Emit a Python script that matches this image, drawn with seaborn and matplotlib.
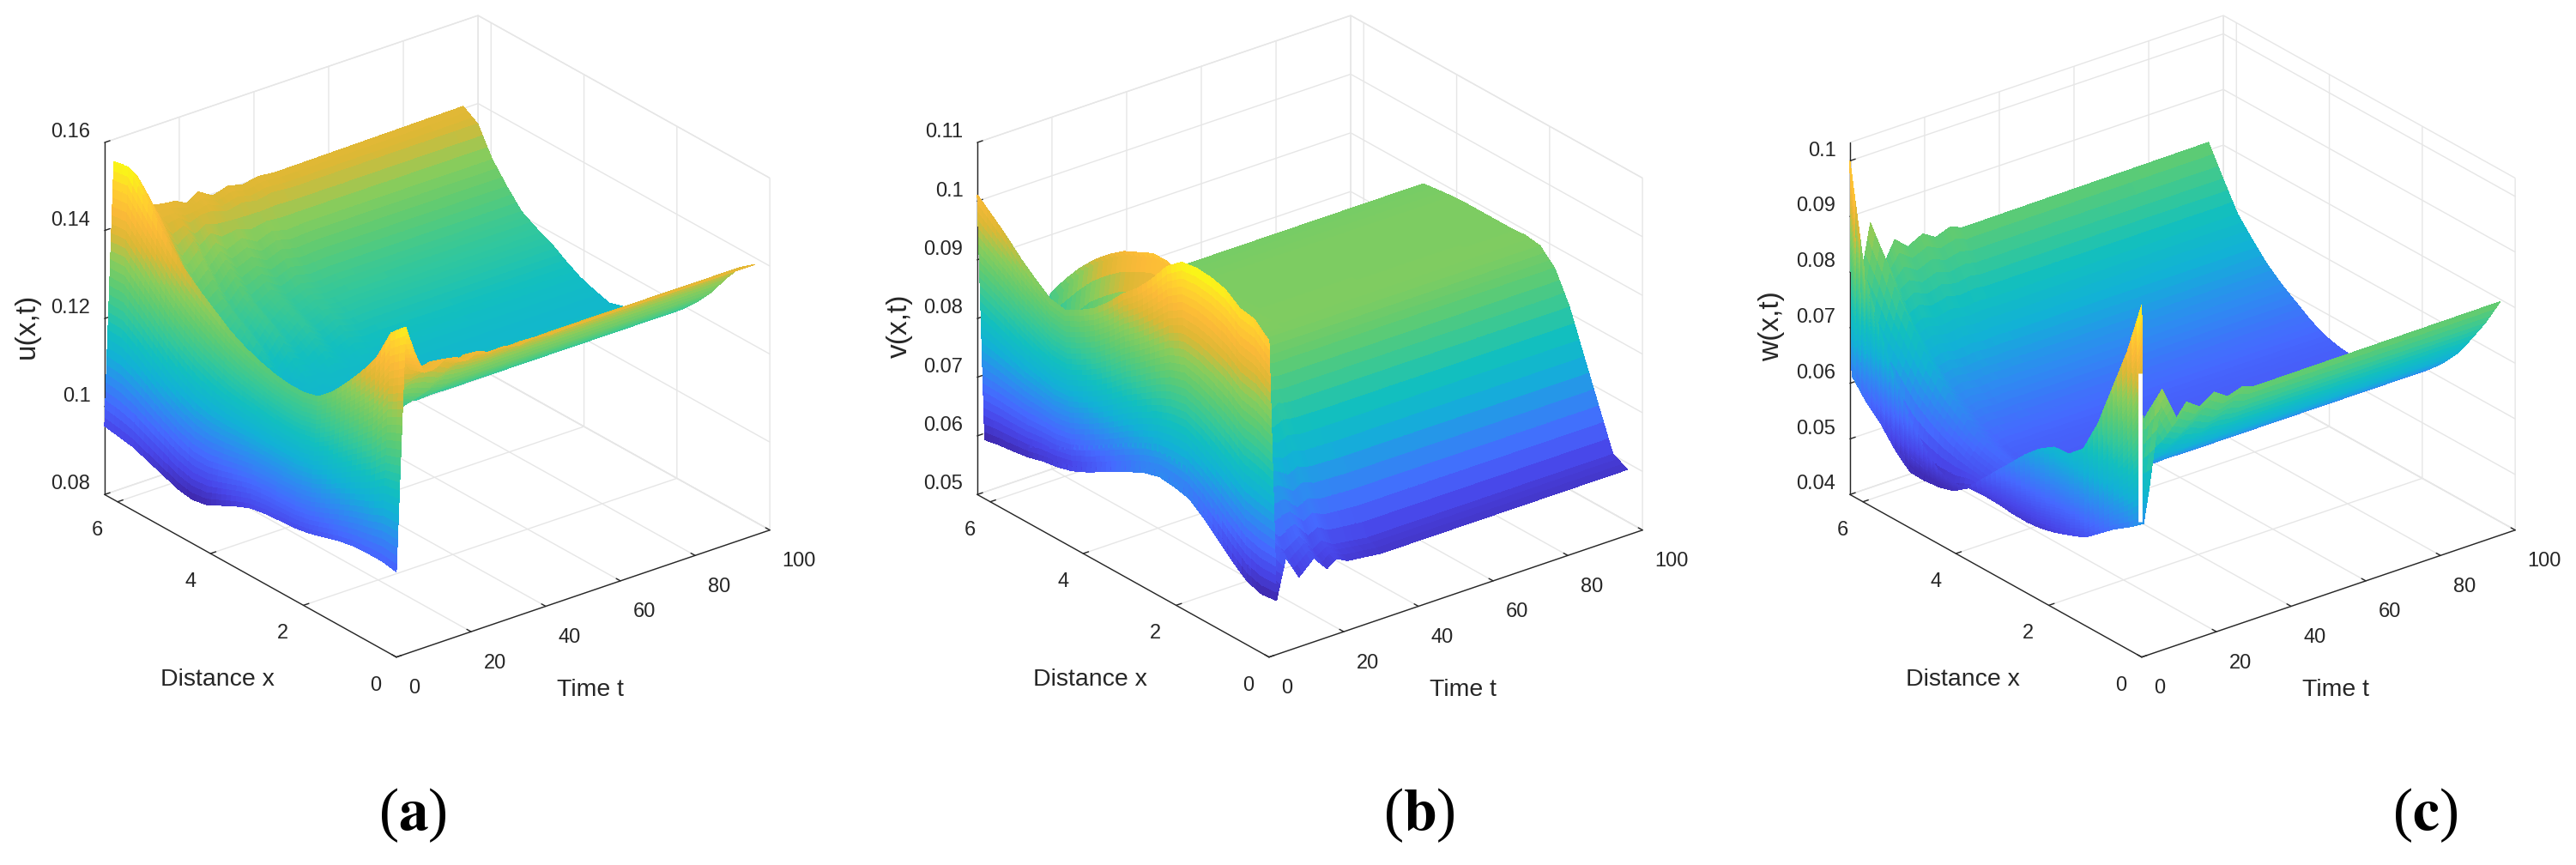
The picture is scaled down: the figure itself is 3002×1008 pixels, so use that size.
import numpy as np
import matplotlib
matplotlib.use("Agg")
import matplotlib.pyplot as plt
from mpl_toolkits.mplot3d import proj3d
import seaborn as sns

# ---------- values ----------
x_grid = [0.000, 0.314, 0.628, 0.942, 1.256, 1.570, 1.884, 2.198, 2.512, 2.826, 3.140,
          3.454, 3.768, 4.082, 4.396, 4.710, 5.024, 5.338, 5.652, 5.966, 6.280]
x_max = 6.28
t_max = 100

u_times = [0, 2.5, 5, 7.5, 10, 13, 16, 19, 22, 25, 29, 33, 37, 41, 46, 96]
u_values = [
 [.0994,.1,.1,.0998,.0991,.0981,.0971,.0965,.0963,.096,.0954,.094,.0923,.0906,.09,.0906,.0919,.0931,.0944,.095,.0956],
 [.1543,.1511,.1436,.1386,.1343,.1303,.1274,.1265,.1265,.127,.128,.1293,.1311,.1336,.1361,.139,.1424,.1468,.1511,.1555,.1549],
 [.1475,.1455,.139,.134,.1295,.126,.1235,.1225,.122,.1222,.1225,.123,.1245,.1265,.1295,.133,.137,.142,.147,.1525,.1535],
 [.1425,.1415,.136,.130,.1255,.122,.119,.117,.116,.1155,.1155,.1165,.1185,.1215,.125,.129,.1335,.1385,.1435,.148,.1495],
 [.1425,.141,.1355,.1295,.125,.1205,.1185,.1165,.115,.1145,.114,.1145,.116,.118,.121,.1245,.1285,.133,.138,.143,.1455],
 [.144,.1415,.136,.1305,.1265,.122,.1195,.1175,.1155,.1145,.113,.1135,.1145,.116,.118,.122,.1255,.1295,.134,.1395,.142],
 [.1435,.141,.1355,.130,.126,.1225,.1215,.119,.117,.1155,.1135,.1138,.1155,.119,.1225,.1245,.127,.132,.1365,.14,.1415],
 [.142,.1395,.1345,.129,.125,.121,.12,.118,.1165,.1155,.1145,.115,.114,.116,.119,.1215,.1235,.1275,.132,.138,.1412],
 [.1432,.1405,.1352,.13,.126,.1225,.1212,.119,.1168,.1152,.114,.1146,.1165,.119,.1225,.1245,.1265,.1305,.1345,.139,.1398],
 [.142,.1395,.1348,.1295,.1255,.122,.1205,.1183,.1164,.1153,.1145,.1155,.1155,.1175,.1195,.1215,.1235,.1275,.132,.139,.1416],
 [.1423,.1392,.1346,.1297,.1258,.1222,.1208,.1186,.1167,.1154,.1143,.1152,.1175,.12,.1225,.124,.1255,.129,.1335,.1378,.1395],
 [.1414,.139,.1346,.1296,.1256,.1221,.1206,.1184,.1165,.1153,.1144,.1153,.1158,.1175,.1198,.1214,.1232,.127,.1315,.1386,.1406],
 [.142,.1392,.1347,.1296,.1256,.1221,.1206,.1184,.1165,.1153,.1143,.1153,.1172,.1192,.1215,.1228,.1246,.1284,.1328,.1379,.1397],
 [.1414,.139,.1346,.1296,.1256,.1221,.1206,.1184,.1165,.1153,.1143,.1153,.1163,.1183,.1204,.1219,.1238,.1276,.1319,.1386,.1404],
 [.1416,.1391,.1346,.1296,.1256,.1221,.1206,.1184,.1165,.1153,.1143,.1153,.1166,.1185,.1207,.1222,.1241,.1279,.1322,.1382,.14],
 [.1415,.139,.1346,.1296,.1256,.1221,.1206,.1184,.1165,.1153,.1143,.1153,.1165,.1184,.1206,.1221,.124,.1278,.1321,.1384,.1405],
]

v_times = [0, 2, 4.5, 8, 12, 15.5, 18, 21, 30, 96]
v_values = [
 [.1039,.1062,.1067,.1085,.1092,.1094,.1090,.1069,.1034,.1004,.0981,.0952,.0928,.0911,.0898,.0903,.0922,.0943,.0968,.099,.1011],
 [.0592,.0589,.0597,.0617,.0641,.0664,.0683,.0689,.0692,.0685,.0673,.0659,.0645,.0631,.0619,.0612,.0608,.0601,.0597,.0594,.0589],
 [.066,.0675,.071,.0755,.08,.084,.0875,.089,.0895,.089,.088,.0865,.0845,.082,.0795,.0755,.0715,.068,.0655,.063,.062],
 [.0619,.0648,.0715,.0785,.0855,.091,.096,.0995,.102,.1032,.1032,.102,.1008,.0989,.0966,.0938,.0905,.0867,.08,.07,.0625],
 [.0643,.0665,.0715,.0775,.084,.0895,.0935,.097,.0985,.099,.0985,.098,.097,.0955,.094,.091,.0865,.08,.0725,.065,.061],
 [.0617,.0635,.0695,.0765,.083,.0885,.0915,.0935,.0945,.0945,.0945,.094,.0935,.0925,.0915,.089,.085,.079,.0725,.0655,.0615],
 [.0629,.0645,.0705,.0772,.0838,.089,.0918,.0928,.0932,.0932,.0932,.093,.0925,.0918,.091,.0885,.0845,.0785,.0722,.0652,.0615],
 [.0619,.0632,.0697,.0766,.0835,.0886,.0911,.0918,.0918,.0918,.0918,.0918,.0915,.0912,.0907,.0882,.0842,.0782,.072,.0651,.0615],
 [.0612,.0624,.0694,.0764,.0835,.0886,.091,.0914,.0913,.0912,.0912,.0912,.0911,.0908,.0905,.088,.084,.078,.072,.065,.0615],
 [.0612,.0624,.0694,.0764,.0835,.0886,.091,.0914,.0912,.0912,.0912,.0912,.0911,.0908,.0905,.088,.084,.078,.072,.065,.0615],
]

w_times = [0, 0.5, 2, 5.5, 9.5, 12, 15.5, 19.5, 23, 27, 30, 96]
w_values = [
 [.1033,.0934,.0855,.0776,.0716,.0692,.069,.0672,.0647,.0617,.0588,.0558,.0528,.0524,.0533,.0563,.0603,.0657,.0731,.0815,.1],
 [.0639,.0618,.06,.0578,.0556,.0545,.0535,.0528,.0525,.0526,.0529,.053,.0528,.0508,.05,.0497,.0498,.0522,.0555,.058,.0613],
 [.07,.0675,.065,.0625,.0605,.059,.0575,.0565,.056,.056,.056,.056,.0565,.0575,.0585,.06,.062,.065,.068,.0715,.075],
 [.0869,.0812,.0755,.071,.0675,.0645,.062,.0605,.0595,.059,.0585,.059,.0597,.0612,.0633,.0655,.0685,.0725,.0765,.0825,.0876],
 [.0805,.0755,.0715,.0677,.0648,.0622,.0602,.0588,.0578,.0573,.0571,.0574,.0581,.0595,.0612,.063,.0652,.068,.071,.076,.0798],
 [.0831,.0775,.073,.0688,.0655,.0628,.0607,.0592,.0582,.0576,.0574,.0577,.0584,.0598,.0616,.0635,.0657,.0687,.072,.0772,.0831],
 [.0815,.0763,.0719,.068,.0649,.0623,.0603,.0589,.058,.0575,.0573,.0576,.0583,.0596,.0613,.0631,.0653,.0681,.0712,.076,.081],
 [.0832,.0778,.0728,.0685,.0652,.0626,.0606,.0591,.0581,.0576,.0574,.0577,.0584,.0597,.0615,.0634,.0656,.0685,.0718,.077,.0824],
 [.0816,.0765,.0721,.0681,.065,.0624,.0604,.059,.058,.0575,.0573,.0576,.0583,.0596,.0614,.0632,.0654,.0682,.0713,.0762,.081],
 [.0825,.0772,.0725,.0683,.0651,.0625,.0605,.059,.058,.0575,.0573,.0576,.0583,.0596,.0614,.0633,.0655,.0684,.0716,.0767,.082],
 [.0818,.0767,.0722,.0682,.065,.0624,.0604,.059,.058,.0575,.0573,.0576,.0583,.0596,.0614,.0632,.0654,.0683,.0714,.0763,.0811],
 [.082,.0768,.0723,.0682,.065,.0624,.0604,.059,.058,.0575,.0573,.0576,.0583,.0596,.0614,.0632,.0654,.0683,.0714,.0763,.0814],
]
w_gap_z = [0.0642, 0.0909]   # white slit beside the spike at x = 0 in panel (c)

x_ticks = [0, 2, 4, 6]
t_ticks = [0, 20, 40, 60, 80, 100]
u_ticks = [0.08, 0.10, 0.12, 0.14, 0.16]
u_tick_labels = ["0.08", "0.1", "0.12", "0.14", "0.16"]
v_ticks = [0.05, 0.06, 0.07, 0.08, 0.09, 0.10, 0.11]
v_tick_labels = ["0.05", "0.06", "0.07", "0.08", "0.09", "0.1", "0.11"]
w_ticks = [0.04, 0.05, 0.06, 0.07, 0.08, 0.09, 0.10]
w_tick_labels = ["0.04", "0.05", "0.06", "0.07", "0.08", "0.09", "0.1"]

# ---------- style ----------
sns.set_theme(style="white")
plt.rcParams["font.family"] = ["Liberation Sans", "DejaVu Sans"]
plt.rcParams["mathtext.fontset"] = "stix"
INK = "#262626"
GRID = "#e6e6e6"
parula = sns.blend_palette(["#3e26a8", "#4845e8", "#4668ff", "#2d8cf0", "#12b1d6",
                            "#12bfbf", "#37c897", "#5fcb72", "#8ccc5a", "#dcb835",
                            "#fbb938", "#ffd22e", "#f9fb14"],
                           n_colors=256, as_cmap=True)

W, H = 3002, 1008
fig = plt.figure(figsize=(W / 100, H / 100), dpi=100, facecolor="white")


def paint_steps(times):
    """Split each cell only so its colour can run as a gradient (what shading
    interp does in the source figure). The surface stays the same piecewise-linear
    sheet through the values in the tables; no value is added to them."""
    return [30 if i == 0 else (24 if times[i + 1] - times[i] > 30 else 5)
            for i in range(len(times) - 1)]


def split_rows(arr, steps):
    out = []
    for i, n in enumerate(steps):
        for k in range(n):
            out.append(arr[i] + (k / n) * (arr[i + 1] - arr[i]))
    out.append(arr[-1])
    return np.array(out)


def pin(ax, label, px, py):
    """Fix an axis label at a pixel position: Axis3D would re-place it on draw."""
    x, y = ax.transData.inverted().transform((px, H - py))
    label.set_position((x, y))
    label.set_ha("center")
    label.set_va("center")
    label.set_rotation_mode("default")
    for name in ("set_position", "set_ha", "set_va", "set_rotation_mode"):
        setattr(label, name, lambda *a, **k: None)


def panel(times, values, zticks, zlabels, zlim, zname, left_px, slit=None):
    ax = fig.add_axes([0.1, 0.1, 0.3, 0.3 * W / H], projection="3d",
                      computed_zorder=False)
    ax.view_init(elev=25.8, azim=-128)
    ax.set_proj_type("ortho")
    ax.set_box_aspect((1, 1, 0.825))
    ax.set_xlim(0, t_max, view_margin=0)
    ax.set_ylim(0, x_max, view_margin=0)
    ax.set_zlim(*zlim, view_margin=0)

    times = np.asarray(times, float)
    vals = np.asarray(values, float)
    steps = paint_steps(times)
    xs = np.asarray(x_grid)
    x_steps = [3] * (len(xs) - 1)
    z_t = split_rows(vals, steps)
    z_tx = split_rows(z_t.T, x_steps).T
    T, X = np.meshgrid(split_rows(times, steps), split_rows(xs, x_steps), indexing="ij")
    ax.plot_surface(T, X, z_tx, cmap=parula,
                    vmin=vals.min(), vmax=vals.max(), rstride=1, cstride=1,
                    linewidth=0, antialiased=False, shade=False, zorder=2)
    if slit is not None:
        ax.plot([0, 0], [0.03, 0.03], slit, color="white", lw=3.4,
                solid_capstyle="butt", zorder=3)

    ax.set_xticks(t_ticks)
    ax.set_yticks(x_ticks)
    ax.set_zticks(zticks)
    ax.set_zticklabels(zlabels)
    ax.tick_params(axis="both", labelsize=17, colors=INK)
    ax.tick_params(axis="x", pad=6)
    ax.tick_params(axis="y", pad=5)
    ax.tick_params(axis="z", pad=-1)
    for t in ax.xaxis.get_major_ticks():
        t.label1.set_ha("left")
    for t in ax.yaxis.get_major_ticks():
        t.label1.set_ha("right")
    for t in ax.zaxis.get_major_ticks():
        t.label1.set_ha("right")
        t.label1.set_va("bottom")
    for axis in (ax.xaxis, ax.yaxis, ax.zaxis):
        axis.set_pane_color((1, 1, 1, 1))
        axis.pane.set_edgecolor(GRID)
        axis.line.set_color(INK)
        axis.line.set_linewidth(1.0)
        axis._axinfo["grid"].update(color=GRID, linewidth=1.0)
        axis._axinfo["tick"].update(inward_factor=0.0, outward_factor=0.18,
                                    linewidth={True: 1.0, False: 0.5})
        axis.set_rotate_label(False)
    ax.set_xlabel("Time t", fontsize=20.5, color=INK)
    ax.set_ylabel("Distance x", fontsize=20.5, color=INK)
    ax.set_zlabel(zname, fontsize=24, color=INK, rotation=90)

    # place the plot box so that its floor corners land where the reference has them
    targets = {"A": (left_px + 122, H - 574), "B": (left_px + 897, H - 620)}
    def corners():
        M = ax.get_proj()
        out = []
        for c in ((0, x_max, zlim[0]), (t_max, 0, zlim[0])):
            px, py, _ = proj3d.proj_transform(*c, M)
            out.append(ax.transData.transform((px, py)))
        return out
    for _ in range(4):
        ax.apply_aspect()
        a, b = corners()
        ta, tb = np.array(targets["A"], float), np.array(targets["B"], float)
        pos = ax.get_position(original=True)
        size = pos.width * W * np.linalg.norm(tb - ta) / np.linalg.norm(b - a)
        ax.set_position([pos.x0, pos.y0, size / W, size / H])
        ax.apply_aspect()
        a, b = corners()
        d = ((ta + tb) - (a + b)) / 2
        pos = ax.get_position(original=True)
        ax.set_position([pos.x0 + d[0] / W, pos.y0 + d[1] / H, pos.width, pos.height])
    ax.apply_aspect()
    ax.patch.set_alpha(0)
    pin(ax, ax.xaxis.label, left_px + 688, 804)
    pin(ax, ax.yaxis.label, left_px + 253, 792)
    pin(ax, ax.zaxis.label, left_px + 31, 380)
    return ax


panel(u_times, u_values, u_ticks, u_tick_labels, (0.08, 0.16), "u(x,t)", 0)
panel(v_times, v_values, v_ticks, v_tick_labels, (0.05, 0.11), "v(x,t)", 1017)
panel(w_times, w_values, w_ticks, w_tick_labels, (0.04, 0.1033), "w(x,t)", 2034, slit=w_gap_z)

for s, px in (("a", 481), ("b", 1654), ("c", 2826)):
    fig.text(px / W, 1 - 950 / H, "($\\mathbf{%s}$)" % s, ha="center", va="center",
             fontsize=50, color="black", family=["Liberation Serif", "DejaVu Serif"])

fig.savefig("out.png", dpi=100, facecolor="white")
